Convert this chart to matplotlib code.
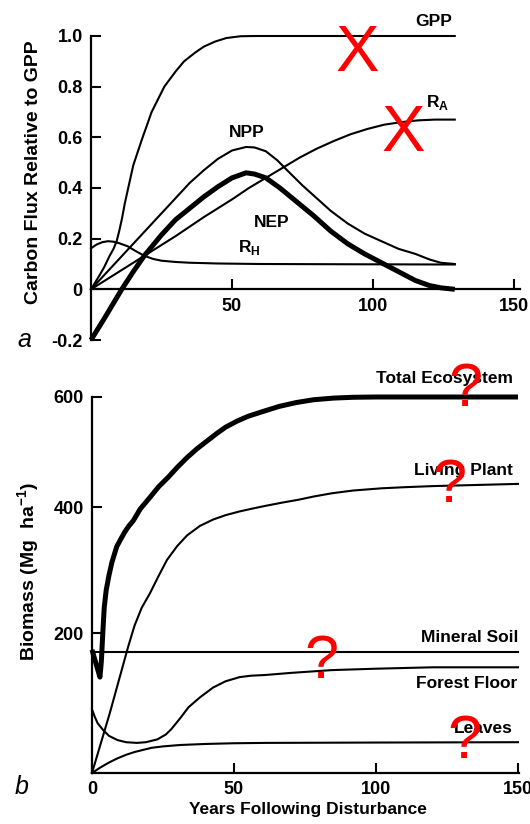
import numpy as np
import matplotlib
matplotlib.use('Agg')
import matplotlib.pyplot as plt

plt.rcParams['font.family'] = ['Liberation Sans', 'DejaVu Sans']
plt.rcParams['font.weight'] = 'bold'
plt.rcParams['mathtext.fontset'] = 'custom'
plt.rcParams['mathtext.rm'] = 'Liberation Sans:bold'
plt.rcParams['mathtext.bf'] = 'Liberation Sans:bold'

# ---- panel a: carbon flux relative to GPP ----
gpp_x = [0, 3, 4.7, 6.5, 8, 9.1, 10, 11, 12, 13.2, 15, 18, 21.5, 26, 30, 33, 37, 40, 44, 48, 53, 58, 129]
gpp_y = [0, 0.055, 0.088, 0.13, 0.16, 0.19, 0.23, 0.28, 0.34, 0.40, 0.49, 0.59, 0.70, 0.80, 0.86, 0.90,
         0.935, 0.958, 0.978, 0.992, 0.999, 1.0, 1.0]

npp_x = [0, 5, 10, 15, 20, 25, 30, 35, 40, 45, 50, 55, 58, 62, 66, 70, 75, 80, 85, 91, 97, 103, 109,
         115, 120, 124, 129]
npp_y = [0, 0.06, 0.12, 0.18, 0.24, 0.30, 0.36, 0.42, 0.47, 0.515, 0.548, 0.562, 0.56, 0.545, 0.51,
         0.465, 0.41, 0.36, 0.31, 0.26, 0.22, 0.19, 0.16, 0.14, 0.118, 0.105, 0.10]

ra_x = [0, 10, 20, 30, 40, 50, 56, 62, 68, 74, 80, 86, 92, 98, 104, 110, 116, 122, 129]
ra_y = [0, 0.07, 0.14, 0.21, 0.285, 0.355, 0.40, 0.44, 0.48, 0.52, 0.555, 0.585, 0.612, 0.633, 0.65,
        0.66, 0.667, 0.67, 0.67]

rh_x = [0, 2, 4, 6, 8, 10, 13, 16, 19, 22, 25, 30, 35, 45, 60, 90, 129]
rh_y = [0.162, 0.177, 0.186, 0.19, 0.188, 0.182, 0.17, 0.15, 0.132, 0.12, 0.113, 0.108, 0.105, 0.102,
        0.10, 0.099, 0.098]

nep_x = [0, 5, 10.9, 15, 19, 25, 30, 35, 40, 45, 50, 55, 58, 62, 67, 73, 79, 85, 91, 97, 103, 109,
         115, 120, 124, 129]
nep_y = [-0.2, -0.11, 0, 0.07, 0.134, 0.215, 0.275, 0.32, 0.365, 0.405, 0.44, 0.46, 0.455, 0.44, 0.40,
         0.345, 0.29, 0.23, 0.18, 0.14, 0.105, 0.07, 0.035, 0.015, 0.006, 0]

# ---- panel b: biomass (Mg/ha) ----
total_x = [0, 1, 2, 2.8, 3.3, 3.8, 4.3, 5, 6, 7, 8.7, 10, 11.5, 13, 14.5, 17, 20, 23.5, 27, 30, 33.5,
           37, 40, 44, 47, 51, 55, 61, 66, 72, 78, 85, 92, 100, 150]
total_y = [176, 162, 148, 137, 160, 200, 240, 268, 292, 312, 337, 348, 360, 370, 378, 397, 415, 437,
           455, 472, 490, 506, 518, 534, 545, 556, 565, 575, 583, 590, 595, 598, 599.5, 600, 600]

plant_x = [0, 3, 6.3, 9.5, 12.7, 15, 17.5, 20.4, 23.5, 26.4, 30, 33.5, 38, 42.6, 47, 52, 57, 61, 67,
           72.5, 78, 84.5, 92, 102, 110, 120, 135, 150]
plant_y = [0, 41, 86, 133, 180, 212, 240, 263, 291, 316, 338, 355, 370, 380, 387, 393, 398, 402, 408,
           413, 419, 425, 430, 434, 436, 438, 440, 442]

soil_x = [0, 150]
soil_y = [173, 173]

floor_x = [0, 1, 2, 4, 6, 9, 12, 15.8, 19, 23, 26, 28, 31, 34, 38, 42.6, 47, 52, 56, 61, 70, 84.5,
           100, 120, 150]
floor_y = [91, 80, 71, 61, 53, 47, 44, 43, 44, 48, 55, 63, 78, 94, 108, 122, 131, 137, 139, 140, 143,
           147, 149, 151, 151]

leaves_x = [0, 3, 6, 9, 12, 15, 18, 21, 25, 31, 40, 50, 61, 100, 150]
leaves_y = [0, 8, 15, 21, 26, 30, 33, 36, 38, 40, 41.5, 42.5, 43, 43.5, 44]

# the biomass axis in the original is not evenly spaced
b_vals = [-1000, 0, 200, 400, 600, 1600]
b_pos = [-700, 0, 140, 266, 376, 926]


def fwd(v):
    return np.interp(v, b_vals, b_pos)


def inv(u):
    return np.interp(u, b_pos, b_vals)


fig = plt.figure(figsize=(5.3, 8.24), dpi=100)
W, H = 530, 824

ax1 = fig.add_axes([91 / W, 1 - 340 / H, (152 * 2.82) / W, 304 / H])
ax2 = fig.add_axes([92 / W, 1 - 773 / H, (150.5 * 2.84) / W, 376 / H])

thin = dict(color='black', lw=1.5, clip_on=False, solid_joinstyle='round')
thick = dict(color='black', lw=3.6, clip_on=False, solid_capstyle='butt', solid_joinstyle='round')

ax1.plot(gpp_x, gpp_y, **thin)
ax1.plot(npp_x, npp_y, **thin)
ax1.plot(ra_x, ra_y, **thin)
ax1.plot(rh_x, rh_y, **thin)
ax1.plot(nep_x, nep_y, **thick)

ax1.set_xlim(0, 152)
ax1.set_ylim(-0.2, 1.0)
ax1.spines['top'].set_visible(False)
ax1.spines['right'].set_visible(False)
ax1.spines['bottom'].set_position(('data', 0))
for s in ('left', 'bottom'):
    ax1.spines[s].set_linewidth(1.6)
ax1.set_xticks([50, 100, 150])
ax1.set_xticklabels(['50', '100', '150'])
ax1.set_yticks([-0.2, 0, 0.2, 0.4, 0.6, 0.8, 1.0])
ax1.set_yticklabels(['-0.2', '0', '0.2', '0.4', '0.6', '0.8', '1.0'])
ax1.tick_params(direction='in', length=7, width=1.5, labelsize=13, pad=6)
ax1.set_ylabel('Carbon Flux Relative to GPP', fontsize=14, fontweight='bold')
ax1.yaxis.set_label_coords(-0.114, 0.553)

lab = dict(fontsize=12.5, fontweight='bold')
ax1.text(128, 1.04, 'GPP', ha='right', va='baseline', **lab)
ax1.text(127, 0.72, r'R$_{\mathbf{A}}$', ha='right', va='baseline', **lab)
ax1.text(55.4, 0.60, 'NPP', ha='center', va='baseline', **lab)
ax1.text(64, 0.245, 'NEP', ha='center', va='baseline', **lab)
ax1.text(52, 0.147, r'R$_{\mathbf{H}}$', ha='left', va='baseline', **lab)
ax1.text(-0.155, 0.0, 'a', transform=ax1.transAxes, fontsize=18,
         fontstyle='italic', fontweight='normal', ha='center', va='center')

ax2.set_yscale('function', functions=(fwd, inv))
ax2.plot(total_x, total_y, **thick)
ax2.plot(plant_x, plant_y, **thin)
ax2.plot(soil_x, soil_y, **thin)
ax2.plot(floor_x, floor_y, **thin)
ax2.plot(leaves_x, leaves_y, **thin)

ax2.set_xlim(0, 150.5)
ax2.set_ylim(0, 600)
ax2.spines['top'].set_visible(False)
ax2.spines['right'].set_visible(False)
for s in ('left', 'bottom'):
    ax2.spines[s].set_linewidth(1.6)
ax2.set_xticks([0, 50, 100, 150])
ax2.set_xticklabels(['0', '50', '100', '150'])
ax2.set_yticks([200, 400, 600])
ax2.set_yticklabels(['200', '400', '600'])
ax2.yaxis.set_minor_locator(plt.NullLocator())
ax2.tick_params(direction='in', length=7, width=1.5, labelsize=13, pad=6)
ax2.set_ylabel(r'Biomass (Mg  ha$^{\mathbf{-1}}$)', fontsize=14, fontweight='bold')
ax2.yaxis.set_label_coords(-0.117, 0.535)
ax2.set_xlabel('Years Following Disturbance', fontsize=12.5, fontweight='bold')
ax2.xaxis.set_label_coords(0.505, -0.078)

ax2.text(148.2, 625, 'Total Ecosystem', ha='right', va='baseline', **lab)
ax2.text(148.2, 458, 'Living Plant', ha='right', va='baseline', **lab)
ax2.text(150, 187, 'Mineral Soil', ha='right', va='baseline', **lab)
ax2.text(149.6, 121, 'Forest Floor', ha='right', va='baseline', **lab)
ax2.text(148, 57, 'Leaves', ha='right', va='baseline', **lab)
ax2.text(-0.165, -0.037, 'b', transform=ax2.transAxes, fontsize=18,
         fontstyle='italic', fontweight='normal', ha='center', va='center')

# red marks drawn over the figure
red = dict(color='#ff0000', ha='center', va='center', fontweight='normal')
fig.text(357 / W, 1 - 54 / H, 'X', fontsize=47, **red)
fig.text(403 / W, 1 - 134 / H, 'X', fontsize=47, **red)
for qx, qy in [(465, 390), (449, 487), (321, 662), (464, 742)]:
    fig.text(qx / W, 1 - qy / H, '?', fontsize=44, **red)

fig.savefig('out.png', dpi=100)
